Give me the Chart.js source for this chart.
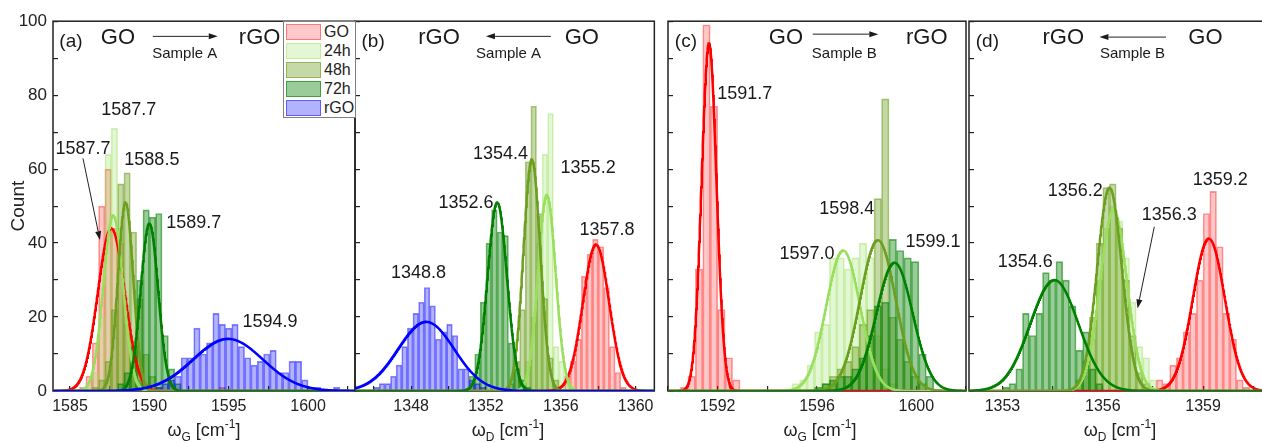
<!DOCTYPE html>
<html>
<head>
<meta charset="utf-8">
<script src="https://cdn.jsdelivr.net/npm/chart.js@4.4.1/dist/chart.umd.min.js"></script>
<style>
html,body{margin:0;padding:0;background:#fff;overflow:hidden;width:1262px;height:443px;position:relative;}
.panel{position:absolute;top:0;}
.panel canvas{display:block;}
.xtitle{position:absolute;top:421px;width:140px;text-align:center;font-family:"Liberation Sans",Arial,sans-serif;font-size:18px;line-height:18px;color:#222;white-space:nowrap;z-index:4;}
.xtitle .sb{font-size:12px;vertical-align:-5px;line-height:0;}
.xtitle .sp{font-size:12px;vertical-align:8px;line-height:0;}
#legend{position:absolute;left:283px;top:21px;width:71px;height:95px;border:1px solid #808080;background:#fff;z-index:5;font-family:"Liberation Sans",Arial,sans-serif;}
#legend .sw{position:absolute;left:2px;width:33px;height:14px;}
#legend .lb{position:absolute;left:40px;font-size:16px;line-height:16px;color:#222;}
</style>
</head>
<body>
<div class="panel" id="pa" style="left:0px;"><canvas id="ca" width="360" height="443"></canvas></div>
<div class="panel" id="pb" style="left:345px;"><canvas id="cb" width="320" height="443"></canvas></div>
<div class="panel" id="pc" style="left:657px;"><canvas id="cc" width="320" height="443"></canvas></div>
<div class="panel" id="pd" style="left:959px;"><canvas id="cd" width="320" height="443"></canvas></div>
<div id="legend"></div>
<div class="xtitle" style="left:134px;">ω<span class="sb">G</span> [cm<span class="sp">-1</span>]</div>
<div class="xtitle" style="left:438px;">ω<span class="sb">D</span> [cm<span class="sp">-1</span>]</div>
<div class="xtitle" style="left:750px;">ω<span class="sb">G</span> [cm<span class="sp">-1</span>]</div>
<div class="xtitle" style="left:1050px;">ω<span class="sb">D</span> [cm<span class="sp">-1</span>]</div>
<script>
// ---------------- series ----------------
const seriesNames = ['GO', '24h', '48h', '72h', 'rGO'];
const lineColours = ['#ff0000', '#98e05c', '#6c9f20', '#008000', '#0000ff'];
const fillAlpha = [0.22, 0.26, 0.4, 0.4, 0.3];

// ---------------- panel (a): omega_G, sample A ----------------
const binsA = [1585.4,1585.8,1586.2,1586.6,1587.0,1587.4,1587.8,1588.2,1588.6,1589.0,1589.4,1589.8,1590.2,1590.6,1591.0,1591.4,1591.8,1592.2,1592.6,1593.0,1593.4,1593.8,1594.2,1594.6,1595.0,1595.4,1595.8,1596.2,1596.6,1597.0,1597.4,1597.8,1598.2,1598.6,1599.0,1599.4,1599.8,1600.2,1600.6,1601.0,1601.4,1601.8];
const goA   = [0,1,4,13,50,60,44,40,18,9,3,1,0,0,0,0,0,0,0,0,0,0,0,1,0,0,0,0,0,0,0,0,0,0,0,0,0,0,0,0,0,0];
const h24A  = [0,0,1,5,20,64,71,44,20,8,2,0,0,0,0,0,0,0,0,0,0,0,0,0,0,0,0,0,0,0,0,0,0,0,0,0,0,0,0,0,0,0];
const h48A  = [0,0,0,1,3,8,22,56,59,43,25,10,4,1,0,0,0,0,0,0,0,0,0,0,0,0,0,0,0,0,0,0,0,0,0,0,0,0,0,0,0,0];
const h72A  = [0,0,0,0,0,0,0,2,5,12,30,49,47,48,15,6,2,0,0,0,0,0,0,0,0,0,0,0,0,0,0,0,0,0,0,0,0,0,0,0,0,0];
const rgoA  = [0,0,0,0,0,0,0,0,0,0,0,0,0,1,2,3,4,9,9,17,10,13,21,18,17,18,12,9,7,8,10,11,5,5,8,8,3,1,1,0,0,1];
const fitCentreA = [1587.6, 1587.72, 1588.5, 1590.0, 1594.95];
const fitHeightA = [44, 47.5, 51, 45.3, 14.1];
const fitSigmaA  = [0.85, 0.62, 0.48, 0.55, 2.2];
const xTicksA  = [1585, 1587.5, 1590, 1592.5, 1595, 1597.5, 1600, 1602.5];
const xLabelsA = [1585, 1590, 1595, 1600];

// ---------------- panel (b): omega_D, sample A ----------------
const binsB = [1345.85,1346.15,1346.45,1346.75,1347.05,1347.35,1347.65,1347.95,1348.25,1348.55,1348.85,1349.15,1349.45,1349.75,1350.05,1350.35,1350.65,1350.95,1351.25,1351.55,1351.85,1352.15,1352.45,1352.75,1353.05,1353.35,1353.65,1353.95,1354.25,1354.55,1354.85,1355.15,1355.45,1355.75,1356.05,1356.35,1356.65,1356.95,1357.25,1357.55,1357.85,1358.15,1358.45,1358.75,1359.05,1359.35,1359.65];
const goB   = [0,0,0,0,0,0,0,0,0,0,0,0,0,0,0,0,0,0,0,0,0,0,0,0,0,0,0,0,0,0,0,0,0,0,0,4,8,14,31,37,41,39,28,12,5,1,0];
const h24B  = [0,0,0,0,0,0,0,0,0,0,0,0,0,0,0,0,0,0,0,0,0,0,0,0,0,0,0,2,8,20,40,64,75,12,8,3,1,0,0,0,0,0,0,0,0,0,0];
const h48B  = [0,0,0,0,0,0,0,0,0,0,0,0,0,0,0,0,0,0,0,0,0,0,0,0,0,2,8,22,62,77,48,25,9,3,0,0,0,0,0,0,0,0,0,0,0,0,0];
const h72B  = [0,0,0,0,0,0,0,0,0,0,0,0,0,0,0,0,0,0,4,10,24,40,49,43,42,13,6,3,1,0,0,0,0,0,0,0,0,0,0,0,0,0,0,0,0,0,0];
const rgoB  = [0,1,2,2,4,7,12,17,21,24,28,23,14,16,18,15,6,6,3,2,1,0,0,0,0,0,0,0,0,0,0,0,0,0,0,0,0,0,0,0,0,0,0,0,0,0,0];
const fitCentreB = [1357.88, 1355.25, 1354.45, 1352.6, 1348.8];
const fitHeightB = [39.6, 53, 62.6, 51, 18.7];
const fitSigmaB  = [0.7, 0.47, 0.45, 0.52, 1.5];
const xTicksB  = [1346, 1348, 1350, 1352, 1354, 1356, 1358, 1360];
const xLabelsB = [1348, 1352, 1356, 1360];

// ---------------- panel (c): omega_G, sample B ----------------
const binsC = [1590.65,1590.95,1591.25,1591.55,1591.85,1592.15,1592.45,1592.75,1593.05,1593.35,1593.65,1593.95,1594.25,1594.55,1594.85,1595.15,1595.45,1595.75,1596.05,1596.35,1596.65,1596.95,1597.25,1597.55,1597.85,1598.15,1598.45,1598.75,1599.05,1599.35,1599.65,1599.95,1600.25,1600.55];
const goC   = [1,4,33,99,77,22,9,3,0,0,0,0,0,0,0,0,0,0,0,0,0,0,0,0,0,0,0,0,0,0,0,0,0,0];
const h24C  = [0,0,0,0,0,0,0,0,0,0,0,0,0,0,0,2,3,7,16,18,36,36,33,36,40,36,15,6,2,0,0,0,0,0];
const h48C  = [0,0,0,0,0,0,0,0,0,0,0,0,0,0,0,0,0,0,0,2,4,6,8,12,18,22,52,79,20,14,8,4,2,0];
const h72C  = [0,0,0,0,0,0,0,0,0,0,0,0,0,0,0,0,0,0,1,2,3,4,4,6,9,15,23,24,41,38,36,35,10,4];
const fitCentreC = [1591.65, 1597.05, 1598.45, 1599.12];
const fitHeightC = [94, 38, 40.8, 34.7];
const fitSigmaC  = [0.3, 0.68, 0.72, 0.73];
const xTicksC  = [1590, 1592, 1594, 1596, 1598, 1600, 1602];
const xLabelsC = [1592, 1596, 1600];

// ---------------- panel (d): omega_D, sample B ----------------
const binsD = [1353.1,1353.3,1353.5,1353.7,1353.9,1354.1,1354.3,1354.5,1354.7,1354.9,1355.1,1355.3,1355.5,1355.7,1355.9,1356.1,1356.3,1356.5,1356.7,1356.9,1357.1,1357.3,1357.5,1357.7,1357.9,1358.1,1358.3,1358.5,1358.7,1358.9,1359.1,1359.3,1359.5,1359.7,1359.9,1360.1,1360.3];
const goD   = [0,0,0,0,0,0,0,0,0,0,0,0,0,0,0,0,0,0,0,0,0,0,0,3,2,7,9,16,21,30,48,54,39,21,14,3,1];
const h24D  = [0,0,0,0,0,0,0,0,0,0,0,0,4,14,30,44,50,46,36,24,12,9,3,0,0,0,0,0,0,0,0,0,0,0,0,0,0];
const h48D  = [0,0,0,0,0,0,0,0,0,0,0,3,8,20,40,55,56,44,30,15,5,2,0,0,0,0,0,0,0,0,0,0,0,0,0,0,0];
const h72D  = [1,2,6,21,15,21,32,30,35,30,23,11,16,6,2,0,0,0,0,0,0,0,0,0,0,0,0,0,0,0,0,0,0,0,0,0,0];
const fitCentreD = [1359.17, 1356.32, 1356.2, 1354.55];
const fitHeightD = [41.2, 49, 55, 30];
const fitSigmaD  = [0.48, 0.4, 0.37, 0.72];
const xTicksD  = [1353, 1354.5, 1356, 1357.5, 1359, 1360.5];
const xLabelsD = [1353, 1356, 1359];

// ---------------- shared y axis ----------------
const yTicks  = [0, 10, 20, 30, 40, 50, 60, 70, 80, 90, 100];
const yLabels = [0, 20, 40, 60, 80, 100];

// ---------------- annotations (data coordinates) ----------------
const notes = {
  ca: {
    texts: [
      {t:'(a)', x:1585.06, y:94.5, s:19}, {t:'GO', x:1588.02, y:95.6, s:22},
      {t:'rGO', x:1596.95, y:95.6, s:22}, {t:'Sample A', x:1592.23, y:91.3, s:15},
      {t:'1587.7', x:1588.70, y:75.9, s:18}, {t:'1587.7', x:1585.82, y:65.5, s:18},
      {t:'1588.5', x:1590.16, y:62.4, s:18}, {t:'1589.7', x:1592.80, y:45.4, s:18},
      {t:'1594.9', x:1597.61, y:18.6, s:18}
    ],
    arrows: [
      {x1:1590.22, y1:95.9, x2:1594.31, y2:95.9},
      {x1:1585.82, y1:62.9, x2:1586.89, y2:40.8}
    ]
  },
  cb: {
    texts: [
      {t:'(b)', x:1345.97, y:94.5, s:19}, {t:'rGO', x:1349.49, y:95.6, s:22},
      {t:'GO', x:1357.12, y:95.6, s:22}, {t:'Sample A', x:1353.21, y:91.3, s:15},
      {t:'1354.4', x:1352.78, y:64.2, s:18}, {t:'1355.2', x:1357.46, y:60.3, s:18},
      {t:'1352.6', x:1350.93, y:50.7, s:18}, {t:'1357.8', x:1358.47, y:43.5, s:18},
      {t:'1348.8', x:1348.39, y:31.8, s:18}
    ],
    arrows: [ {x1:1355.47, y1:95.9, x2:1352.0, y2:95.9} ]
  },
  cc: {
    texts: [
      {t:'(c)', x:1590.72, y:94.5, s:19}, {t:'GO', x:1594.75, y:95.6, s:22},
      {t:'rGO', x:1600.42, y:95.6, s:22}, {t:'Sample B', x:1597.10, y:91.3, s:15},
      {t:'1591.7', x:1593.09, y:80.2, s:18}, {t:'1598.4', x:1597.20, y:49.3, s:18},
      {t:'1597.0', x:1595.60, y:37.0, s:18}, {t:'1599.1', x:1600.67, y:40.3, s:18}
    ],
    arrows: [ {x1:1595.83, y1:96.5, x2:1598.47, y2:96.5} ]
  },
  cd: {
    texts: [
      {t:'(d)', x:1352.55, y:94.5, s:19}, {t:'rGO', x:1354.82, y:95.6, s:22},
      {t:'GO', x:1359.07, y:95.6, s:22}, {t:'Sample B', x:1356.89, y:91.3, s:15},
      {t:'1356.2', x:1355.18, y:54.1, s:18}, {t:'1356.3', x:1357.99, y:47.5, s:18},
      {t:'1359.2', x:1359.51, y:57.0, s:18}, {t:'1354.6', x:1353.68, y:34.9, s:18}
    ],
    arrows: [
      {x1:1357.89, y1:95.7, x2:1355.90, y2:95.7},
      {x1:1357.54, y1:44.4, x2:1357.04, y2:22.3}
    ]
  }
};

// ---------------- helpers ----------------
const FONT = '"Liberation Sans", Arial, sans-serif';
Chart.defaults.font.family = FONT;
Chart.defaults.color = '#222';

function rgba(hex, a) {
  const n = parseInt(hex.slice(1), 16);
  return `rgba(${(n >> 16) & 255},${(n >> 8) & 255},${n & 255},${a})`;
}
function inList(v, arr) { return arr.some(a => Math.abs(a - v) < 1e-6); }

function gaussPoints(c, h, s, xMin, xMax) {
  const pts = [], n = 600;
  for (let i = 0; i <= n; i++) {
    const x = xMin + (xMax - xMin) * i / n;
    pts.push({x, y: h * Math.exp(-0.5 * ((x - c) / s) ** 2)});
  }
  return pts;
}

const notesPlugin = {
  id: 'notesPlugin',
  beforeDatasetsDraw(chart) {
    const {ctx, chartArea: a} = chart;
    ctx.save();
    ctx.strokeStyle = '#222';
    ctx.lineWidth = 1.5;
    ctx.strokeRect(a.left, a.top, a.right - a.left, a.bottom - a.top);
    ctx.restore();
  },
  afterDatasetsDraw(chart) {
    const n = notes[chart.canvas.id];
    if (!n) return;
    const {ctx} = chart;
    const xs = chart.scales.x, ys = chart.scales.y;
    ctx.save();
    ctx.fillStyle = '#1a1a1a';
    ctx.textAlign = 'center';
    ctx.textBaseline = 'middle';
    for (const t of n.texts) {
      ctx.font = `${t.s}px ${FONT}`;
      ctx.fillText(t.t, xs.getPixelForValue(t.x), ys.getPixelForValue(t.y));
    }
    ctx.strokeStyle = '#222';
    ctx.lineWidth = 1;
    for (const ar of n.arrows) {
      const x1 = xs.getPixelForValue(ar.x1), y1 = ys.getPixelForValue(ar.y1);
      const x2 = xs.getPixelForValue(ar.x2), y2 = ys.getPixelForValue(ar.y2);
      const ang = Math.atan2(y2 - y1, x2 - x1), L = 9, W = 3;
      const bx = x2 - L * Math.cos(ang), by = y2 - L * Math.sin(ang);
      ctx.beginPath(); ctx.moveTo(x1, y1); ctx.lineTo(bx, by); ctx.stroke();
      ctx.beginPath();
      ctx.moveTo(x2, y2);
      ctx.lineTo(bx + W * Math.sin(ang), by - W * Math.cos(ang));
      ctx.lineTo(bx - W * Math.sin(ang), by + W * Math.cos(ang));
      ctx.closePath(); ctx.fill();
    }
    ctx.restore();
  }
};

function makePanel(spec) {
  const datasets = [];
  spec.counts.forEach((counts, i) => {
    const k = spec.series[i];
    datasets.push({
      type: 'bar', label: seriesNames[k],
      data: spec.bins.map((b, j) => ({x: b, y: counts[j]})).filter(p => p.y > 0),
      backgroundColor: rgba(lineColours[k], fillAlpha[k]),
      borderColor: rgba(lineColours[k], Math.min(1, fillAlpha[k] + 0.18)),
      borderWidth: 1, borderSkipped: 'start',
      barPercentage: 1, categoryPercentage: 1, grouped: false,
      order: 3 - k * 0.1          // later series drawn on top
    });
  });
  spec.fits.centre.forEach((c, i) => {
    const k = spec.series[i];
    datasets.push({
      type: 'line', label: seriesNames[k] + ' fit',
      data: gaussPoints(c, spec.fits.height[i], spec.fits.sigma[i], spec.xMin, spec.xMax),
      borderColor: lineColours[k], borderWidth: 2.5, pointRadius: 0,
      fill: false, tension: 0,
      order: 1 - k * 0.1          // fits above bars, later series on top
    });
  });
  return new Chart(document.getElementById(spec.canvas), {
    type: 'bar',
    data: {datasets},
    options: {
      responsive: false, animation: false, devicePixelRatio: 1, events: [],
      layout: {padding: {top: 20.5, left: 0, right: spec.padRight, bottom: 0}},
      plugins: {legend: {display: false}, tooltip: {enabled: false}},
      scales: {
        x: {
          type: 'linear', min: spec.xMin, max: spec.xMax, offset: false,
          afterBuildTicks: ax => { ax.ticks = spec.xTicks.map(v => ({value: v})); },
          ticks: {autoSkip: false, maxRotation: 0, padding: 11, color: '#222', font: {size: 16},
                  callback: v => inList(v, spec.xLabels) ? String(Math.round(v)) : ''},
          grid: {offset: false, drawOnChartArea: false, drawTicks: true, tickLength: -5, color: '#222', lineWidth: 1.2},
          border: {display: false},
          afterFit: s => { s.height = 52; }
        },
        y: {
          min: 0, max: 100,
          afterBuildTicks: ax => { ax.ticks = yTicks.map(v => ({value: v})); },
          ticks: {autoSkip: false, padding: 11, color: '#222', font: {size: 17},
                  callback: v => (spec.showY && inList(v, yLabels)) ? String(v) : ''},
          grid: {drawOnChartArea: false, drawTicks: true, tickLength: -5, color: '#222', lineWidth: 1.2},
          border: {display: false},
          title: {display: spec.showY, text: 'Count', color: '#222', font: {size: 19}, padding: {top: 7, bottom: 0}},
          afterFit: s => { s.width = spec.yW; }
        }
      }
    },
    plugins: [notesPlugin]
  });
}

makePanel({canvas: 'ca', bins: binsA, counts: [goA, h24A, h48A, h72A, rgoA], series: [0, 1, 2, 3, 4],
  fits: {centre: fitCentreA, height: fitHeightA, sigma: fitSigmaA},
  xMin: 1583.93, xMax: 1602.96, xTicks: xTicksA, xLabels: xLabelsA, showY: true, yW: 53, padRight: 5});
makePanel({canvas: 'cb', bins: binsB, counts: [goB, h24B, h48B, h72B, rgoB], series: [0, 1, 2, 3, 4],
  fits: {centre: fitCentreB, height: fitHeightB, sigma: fitSigmaB},
  xMin: 1345, xMax: 1361, xTicks: xTicksB, xLabels: xLabelsB, showY: false, yW: 10, padRight: 9});
makePanel({canvas: 'cc', bins: binsC, counts: [goC, h24C, h48C, h72C], series: [0, 1, 2, 3],
  fits: {centre: fitCentreC, height: fitHeightC, sigma: fitSigmaC},
  xMin: 1590, xMax: 1602, xTicks: xTicksC, xLabels: xLabelsC, showY: false, yW: 10, padRight: 9});
makePanel({canvas: 'cd', bins: binsD, counts: [goD, h24D, h48D, h72D], series: [0, 1, 2, 3],
  fits: {centre: fitCentreD, height: fitHeightD, sigma: fitSigmaD},
  xMin: 1352, xMax: 1361, xTicks: xTicksD, xLabels: xLabelsD, showY: false, yW: 10, padRight: 9});

// ---------------- legend ----------------
const leg = document.getElementById('legend');
seriesNames.forEach((name, i) => {
  const top = 2 + i * 19;
  const sw = document.createElement('div');
  sw.className = 'sw';
  sw.style.top = top + 'px';
  sw.style.background = rgba(lineColours[i], fillAlpha[i]);
  sw.style.border = '1px solid ' + rgba(lineColours[i], Math.min(1, fillAlpha[i] + 0.18));
  leg.appendChild(sw);
  const lb = document.createElement('div');
  lb.className = 'lb';
  lb.style.top = (top + 0) + 'px';
  lb.textContent = name;
  leg.appendChild(lb);
});
</script>
</body>
</html>
